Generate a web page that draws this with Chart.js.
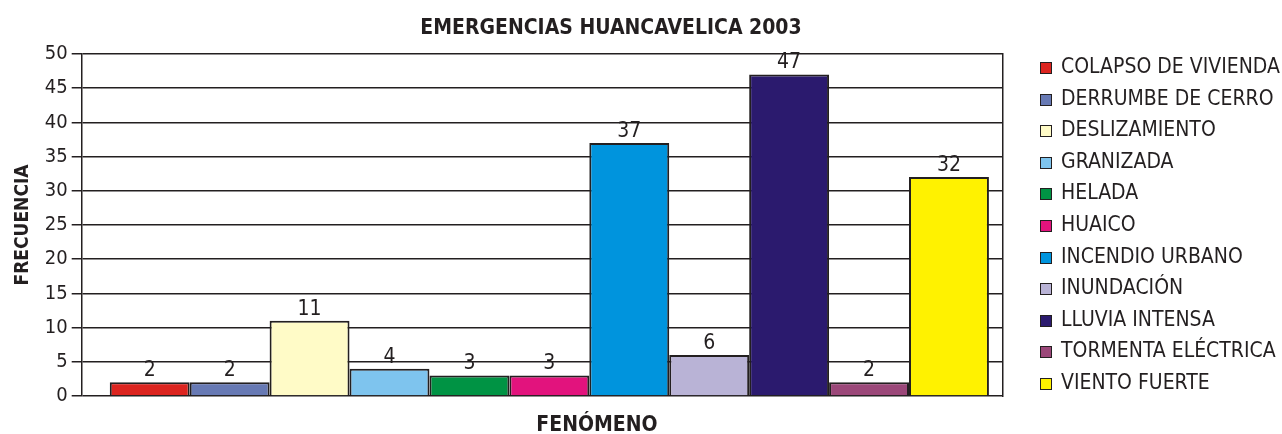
<!DOCTYPE html>
<html lang="es">
<head>
    <meta charset="UTF-8">
    <title>Emergencias Huancavelica 2003</title>
    <script src="https://cdn.jsdelivr.net/npm/chart.js"></script>
    <style>
        html, body {
            margin: 0;
            padding: 0;
            background: #ffffff;
        }
        .wrap {
            position: relative;
            width: 1282px;
            height: 434px;
        }
        #legend {
            position: absolute;
            left: 1040px;
            top: 51px;
            margin: 0;
            padding: 0;
            list-style: none;
            font-family: "Liberation Sans Narrow", "DejaVu Sans Condensed", "DejaVu Sans", sans-serif;
            font-stretch: condensed;
            font-size: 21px;
            color: #231f20;
        }
        #legend li {
            height: 31.6px;
            line-height: 31.6px;
            white-space: nowrap;
        }
        #legend .box {
            display: inline-block;
            width: 10px;
            height: 10px;
            border: 1.5px solid #231f20;
            margin-right: 9px;
            vertical-align: -1px;
        }
    </style>
</head>
<body>
    <div class="wrap">
        <canvas id="chart" width="1282" height="434"></canvas>
        <ul id="legend"></ul>
    </div>
    <script>
        const categories = ['COLAPSO DE VIVIENDA', 'DERRUMBE DE CERRO', 'DESLIZAMIENTO', 'GRANIZADA', 'HELADA', 'HUAICO',
            'INCENDIO URBANO', 'INUNDACIÓN', 'LLUVIA INTENSA', 'TORMENTA ELÉCTRICA', 'VIENTO FUERTE'];
        const frecuencia = [2, 2, 11, 4, 3, 3, 37, 6, 47, 2, 32];
        const colores = ['#dc241f', '#6779b4', '#fffbc7', '#7ec4ee', '#009344', '#e2137d',
            '#0094dd', '#b9b3d6', '#2b1a6e', '#9b4779', '#fff200'];
        const yTicks = [0, 5, 10, 15, 20, 25, 30, 35, 40, 45, 50];

        const FONT = '"Liberation Sans Narrow", "DejaVu Sans Condensed", "Liberation Sans", sans-serif';
        const INK = '#231f20';

        // labels above the bars + title and x-axis title
        const textPlugin = {
            id: 'textPlugin',
            afterLayout(chart) {
                // bar group sits a bit right of centre, like the original plot area
                const x = chart.scales.x;
                x.left = chart.chartArea.left + 14;
                x.configure();
            },
            afterDatasetsDraw(chart) {
                const ctx = chart.ctx;
                ctx.save();
                ctx.fillStyle = INK;
                ctx.font = '21px ' + FONT;
                ctx.textAlign = 'center';
                ctx.textBaseline = 'bottom';
                chart.data.datasets.forEach((ds, i) => {
                    const bar = chart.getDatasetMeta(i).data[0];
                    ctx.fillText(String(ds.data[0]), bar.x, bar.y - 1);
                });
                ctx.font = 'bold 21px ' + FONT;
                ctx.textBaseline = 'middle';
                ctx.fillText('EMERGENCIAS HUANCAVELICA 2003', 611, 29);
                ctx.fillText('FENÓMENO', 597, 426);
                ctx.restore();
            }
        };

        // html legend built from the datasets
        const htmlLegend = {
            id: 'htmlLegend',
            afterUpdate(chart) {
                const ul = document.getElementById('legend');
                ul.innerHTML = '';
                chart.data.datasets.forEach(ds => {
                    const li = document.createElement('li');
                    const box = document.createElement('span');
                    box.className = 'box';
                    box.style.background = ds.backgroundColor;
                    li.appendChild(box);
                    li.appendChild(document.createTextNode(ds.label));
                    ul.appendChild(li);
                });
            }
        };

        const datasets = categories.map((name, i) => ({
            label: name,
            data: [frecuencia[i]],
            backgroundColor: colores[i],
            borderColor: INK,
            borderWidth: 2,
            categoryPercentage: 0.969,
            barPercentage: 1
        }));

        new Chart(document.getElementById('chart'), {
            type: 'bar',
            data: { labels: [''], datasets: datasets },
            plugins: [textPlugin, htmlLegend],
            options: {
                responsive: false,
                animation: false,
                layout: { padding: { top: 54, right: 279, bottom: 38, left: 6 } },
                plugins: {
                    tooltip: { enabled: false },
                    title: { display: false },
                    legend: { display: false }
                },
                scales: {
                    x: { display: false },
                    y: {
                        min: 0,
                        max: 50,
                        afterBuildTicks(scale) {
                            scale.ticks = yTicks.map(v => ({ value: v }));
                        },
                        grid: { color: INK, lineWidth: 1.5, tickLength: 10 },
                        border: { color: INK, width: 1.5 },
                        ticks: { color: INK, padding: 4, font: { family: FONT, size: 20 } },
                        title: {
                            display: true,
                            text: 'FRECUENCIA',
                            color: INK,
                            padding: { top: 6, bottom: 6 },
                            font: { family: FONT, size: 19, weight: 'bold' }
                        }
                    },
                    y2: {
                        position: 'right',
                        min: 0,
                        max: 50,
                        grid: { drawOnChartArea: false, drawTicks: false },
                        border: { color: INK, width: 1.5 },
                        ticks: { display: false }
                    }
                }
            }
        });
    </script>
</body>
</html>
